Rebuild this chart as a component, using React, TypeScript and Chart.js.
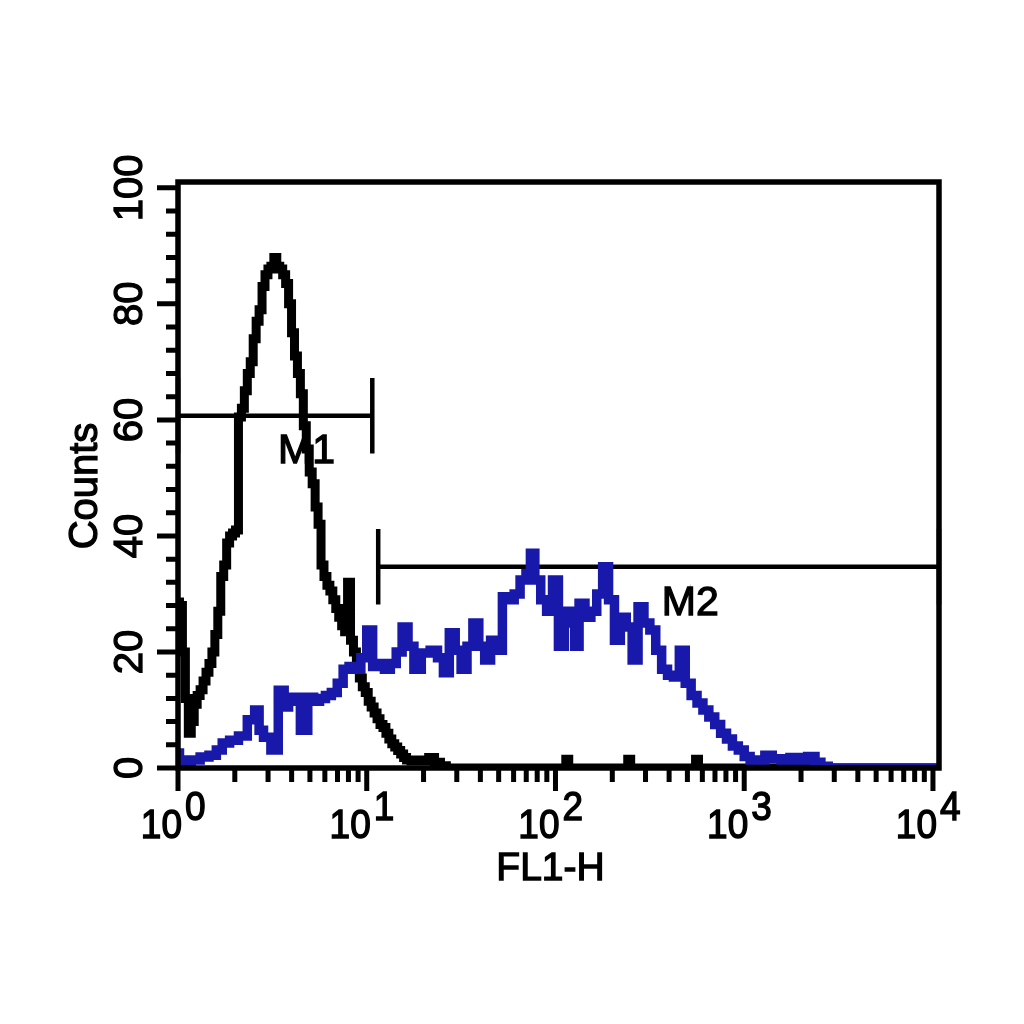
import React, { useEffect, useRef } from 'react';
import { Chart, registerables } from 'chart.js';

Chart.register(...registerables);

// ---- data ----
const CHANNELS_PER_DECADE = 64;
const X_MIN = 1;
const X_MAX = 10765;
const Y_MIN = 0;
const Y_MAX = 101;

const xTickDecades = [0, 1, 2, 3, 4];
const yTickValues = [0, 20, 40, 60, 80, 100];
const yMinorStep = 4;
const xAxisTitle = 'FL1-H';
const yAxisTitle = 'Counts';

const controlChannels = [
  0, 1, 2, 3, 4, 5, 6, 7, 8, 9, 10, 11, 12, 13, 14, 15, 16, 17, 18, 19, 20,
  21, 22, 23, 24, 25, 26, 27, 28, 29, 30, 31, 32, 33, 34, 35, 36, 37, 38, 39, 40,
  41, 42, 43, 44, 45, 46, 47, 48, 49, 50, 51, 52, 53, 54, 55, 56, 57, 58, 59, 60,
  61, 62, 63, 64, 65, 66, 67, 68, 69, 70, 71, 72, 73, 74, 75, 76, 77, 78, 80, 82,
  84, 86, 88, 90, 92, 131, 132, 133, 152, 153, 154, 175, 176, 177, 258,
];
const controlCounts = [
  28.6, 28, 20, 12, 6, 8, 11, 12.5, 13.5, 15, 16.5, 18, 20, 23, 27, 33, 35, 38.8, 40, 40.5, 41,
  60.5, 62, 65, 68, 70, 74, 77, 79, 83, 85, 86, 86.5, 88, 86.5, 86, 85, 83.5, 80, 75, 71,
  68, 64.5, 59, 55, 51, 49, 45, 42, 35, 33, 31.5, 30.5, 29, 27.5, 26, 24.5, 23.5, 32, 22, 20,
  17.5, 15.5, 14, 13, 11.5, 10.5, 9.5, 8.5, 7.5, 7, 6, 5, 4.2, 3.6, 3, 2.4, 1.8, 1.4, 1.2, 1.4,
  1.2, 1.8, 1.0, 0.4, 0, 0, 1.5, 0, 0, 1.5, 0, 0, 1.5, 0, 0,
];

const stainedChannels = [
  0, 1, 3, 6, 9, 12, 14, 16, 19, 22, 25, 27, 28, 30, 33, 35, 37, 38, 40, 43,
  45, 47, 49, 51, 53, 55, 57, 59, 61, 63, 65, 67, 69, 71, 73, 75, 77, 79, 81, 84,
  87, 89, 91, 93, 95, 97, 99, 101, 103, 105, 107, 109, 111, 113, 115, 117, 119, 120, 122, 124,
  126, 128, 130, 132, 134, 135, 137, 139, 141, 143, 145, 147, 149, 151, 153, 155, 157, 159, 161, 163,
  165, 167, 169, 171, 173, 175, 177, 179, 181, 183, 185, 187, 189, 191, 193, 195, 198, 200, 203, 206,
  209, 212, 215, 217, 219, 222, 258,
];
const stainedCounts = [
  2.6, 1.4, 1.0, 1.4, 1.9, 2.2, 3.1, 4.3, 4.8, 5.5, 8.3, 10, 6.5, 5.3, 3.1, 13.4, 10.5, 11.5, 12.2, 6.5,
  12.2, 11.5, 12, 12.5, 13, 14.6, 17, 17.5, 17, 19, 23.8, 17.5, 18, 17, 18, 20, 24.3, 21, 17, 19.8,
  20.3, 19, 16.4, 23.3, 20.3, 17, 21, 25, 21, 18.6, 22, 20.3, 29.5, 29, 30, 32.4, 33.5, 37, 32.4, 29,
  27, 32.4, 21, 27, 25, 21, 28.4, 26, 27, 30, 34.7, 29, 22, 26, 24.3, 18.6, 27.8, 25, 23.8, 20.3,
  17, 16, 15.7, 20.3, 14.6, 12.5, 11.2, 10, 8.8, 7.5, 6, 5, 3.8, 3.1, 2, 1.4, 1.4, 2.2, 1.6, 1.4,
  1.8, 1.4, 2.0, 1.0, 0.3, 0, 0,
];

const markerNames = ['M1', 'M2'];
const markerStarts = [1, 11.5];
const markerEnds = [10.7, X_MAX];
const markerLevels = [60.7, 34.7];
const markerHalfHeights = [6.5, 6.5];
const markerLabelX = [3.39, 366];
const markerLabelY = [52.6, 26.4];

// ---- styles ----
const BLUE = 'rgb(24,24,170)';
const FONT = '"Liberation Sans", Arial, Helvetica, sans-serif';

function heavyText(ctx: CanvasRenderingContext2D, text: string, x: number, y: number, sy: number) {
  ctx.save();
  ctx.translate(x, y);
  ctx.scale(1, sy);
  ctx.lineWidth = 1.3;
  ctx.strokeStyle = ctx.fillStyle as string;
  ctx.fillText(text, 0, 0);
  ctx.strokeText(text, 0, 0);
  ctx.restore();
}

const facsPlugin = {
  id: 'facsDecor',
  beforeDatasetsDraw(chart: any) {
    const ctx: CanvasRenderingContext2D = chart.ctx;
    const xs = chart.scales.x;
    const ys = chart.scales.y;
    ctx.save();
    ctx.strokeStyle = '#000';
    ctx.fillStyle = '#000';
    ctx.lineCap = 'butt';
    for (let i = 0; i < markerNames.length; i++) {
      const x0 = xs.getPixelForValue(markerStarts[i]);
      const x1 = xs.getPixelForValue(markerEnds[i]);
      const py = ys.getPixelForValue(markerLevels[i]);
      const pTop = ys.getPixelForValue(markerLevels[i] + markerHalfHeights[i]);
      const pBot = ys.getPixelForValue(markerLevels[i] - markerHalfHeights[i]);
      ctx.lineWidth = 4.5;
      ctx.beginPath();
      ctx.moveTo(x0, py);
      ctx.lineTo(x1, py);
      ctx.moveTo(x0, pTop);
      ctx.lineTo(x0, pBot);
      ctx.moveTo(x1, pTop);
      ctx.lineTo(x1, pBot);
      ctx.stroke();
      ctx.font = `41px ${FONT}`;
      ctx.textAlign = 'left';
      ctx.textBaseline = 'alphabetic';
      heavyText(ctx, markerNames[i], xs.getPixelForValue(markerLabelX[i]), ys.getPixelForValue(markerLabelY[i]), 1.0);
    }
    ctx.restore();
  },
  afterDatasetsDraw(chart: any) {
    const ctx: CanvasRenderingContext2D = chart.ctx;
    const xs = chart.scales.x;
    const ys = chart.scales.y;
    const { left, right, top, bottom } = chart.chartArea;
    ctx.save();
    ctx.strokeStyle = '#000';
    ctx.fillStyle = '#000';
    // frame
    ctx.lineWidth = 5.5;
    ctx.strokeRect(left, top, right - left, bottom - top);
    // y ticks
    ctx.lineWidth = 5;
    ctx.beginPath();
    for (let v = 0; v <= 100; v += yMinorStep) {
      const py = ys.getPixelForValue(v);
      const major = yTickValues.includes(v);
      ctx.moveTo(left - (major ? 21 : 12), py);
      ctx.lineTo(left, py);
    }
    // x ticks
    for (let d = xTickDecades[0]; d < xTickDecades[xTickDecades.length - 1]; d++) {
      for (let m = 1; m <= 9; m++) {
        const px = xs.getPixelForValue(m * Math.pow(10, d));
        ctx.moveTo(px, bottom);
        ctx.lineTo(px, bottom + (m === 1 ? 23 : 14));
      }
    }
    const lastPx = xs.getPixelForValue(Math.pow(10, xTickDecades[xTickDecades.length - 1]));
    ctx.moveTo(lastPx, bottom);
    ctx.lineTo(lastPx, bottom + 23);
    ctx.stroke();

    // x tick labels
    ctx.textBaseline = 'alphabetic';
    ctx.font = `37px ${FONT}`;
    for (const d of xTickDecades) {
      const px = xs.getPixelForValue(Math.pow(10, d));
      ctx.textAlign = 'right';
      heavyText(ctx, '10', px + 4, bottom + 70, 1.12);
      ctx.textAlign = 'left';
      heavyText(ctx, String(d), px + 7, bottom + 52, 1.12);
    }
    // y tick labels (rotated)
    ctx.font = `40px ${FONT}`;
    ctx.textAlign = 'center';
    for (const v of yTickValues) {
      const py = ys.getPixelForValue(v);
      ctx.save();
      ctx.translate(left - 36, py);
      ctx.rotate(-Math.PI / 2);
      heavyText(ctx, String(v), 0, 0, 1.0);
      ctx.restore();
    }
    // y title
    ctx.save();
    ctx.translate(left - 81, (top + bottom) / 2 + 11);
    ctx.rotate(-Math.PI / 2);
    heavyText(ctx, yAxisTitle, 0, 0, 1.0);
    ctx.restore();
    // x title
    ctx.font = `39px ${FONT}`;
    ctx.textAlign = 'center';
    heavyText(ctx, xAxisTitle, (left + right) / 2 - 8, bottom + 112, 1.0);
    ctx.restore();
  },
};

export default function App() {
  const ref = useRef<HTMLCanvasElement>(null);
  useEffect(() => {
    document.body.style.margin = '0';
    const canvas = ref.current;
    if (!canvas) return;
    const toPoints = (ch: number[], counts: number[]) =>
      ch.map((c, i) => ({ x: Math.pow(10, c / CHANNELS_PER_DECADE), y: counts[i] }));
    const chart = new Chart(canvas, {
      type: 'line',
      data: {
        datasets: [
          {
            label: 'Control',
            data: toPoints(controlChannels, controlCounts),
            borderColor: '#000',
            borderWidth: 9,
            pointRadius: 0,
            stepped: 'middle',
            fill: false,
            order: 2,
          },
          {
            label: 'Stained',
            data: toPoints(stainedChannels, stainedCounts),
            borderColor: BLUE,
            borderWidth: 9.5,
            pointRadius: 0,
            stepped: 'middle',
            fill: false,
            order: 1,
          },
        ],
      },
      options: {
        animation: false,
        responsive: false,
        layout: { padding: { left: 178, right: 85, top: 182, bottom: 256 } },
        plugins: { legend: { display: false }, tooltip: { enabled: false } },
        scales: {
          x: { type: 'logarithmic', min: X_MIN, max: X_MAX, display: false },
          y: { type: 'linear', min: Y_MIN, max: Y_MAX, display: false },
        },
      },
      plugins: [facsPlugin],
    } as any);
    return () => chart.destroy();
  }, []);
  return <canvas ref={ref} width={1024} height={1024} style={{ display: 'block', background: '#fff' }} />;
}
